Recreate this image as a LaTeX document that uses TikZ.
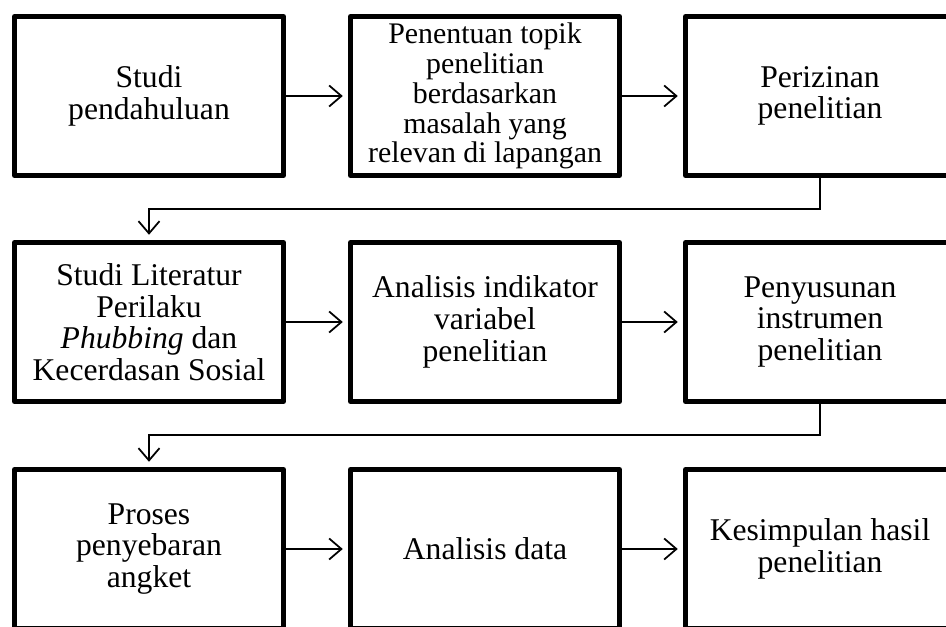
\documentclass[tikz,border=0pt]{standalone}
\usepackage{fontspec}
\setmainfont{Liberation Serif}
\usetikzlibrary{arrows.meta}

\tikzset{
  stepbox/.style={draw, line width=2.8pt, line join=round, fill=white,
    minimum width=5.38cm, minimum height=3.18cm, inner sep=1pt, align=center,
    font=\fontsize{18}{18}\selectfont},
  flow/.style={-{Straight Barb[length=7pt,width=12pt,line width=1pt]}, line width=1pt, shorten >=3pt}
}

\begin{document}
\begin{tikzpicture}
\clip (0,0) rectangle (18.92,-12.54);

% first row
\node[stepbox] (pendahuluan) at (2.98,-1.92) {Studi\\pendahuluan};
\node[stepbox, font=\fontsize{17}{17}\selectfont] (topik) at (9.70,-1.92)
  {Penentuan topik\\penelitian\\berdasarkan\\masalah yang\\relevan di lapangan};
\node[stepbox] (izin) at (16.40,-1.92) {Perizinan\\penelitian};

% second row
\node[stepbox] (literatur) at (2.98,-6.44) {Studi Literatur\\Perilaku\\\textit{Phubbing} dan\\Kecerdasan Sosial};
\node[stepbox] (indikator) at (9.70,-6.44) {Analisis indikator\\variabel\\penelitian};
\node[stepbox] (instrumen) at (16.40,-6.44) {Penyusunan\\instrumen\\penelitian};

% third row
\node[stepbox] (angket) at (2.98,-10.98) {Proses\\penyebaran\\angket};
\node[stepbox] (data) at (9.70,-10.98) {Analisis data};
\node[stepbox] (simpulan) at (16.40,-10.98) {Kesimpulan hasil\\penelitian};

\foreach \a/\b in {pendahuluan/topik, topik/izin, literatur/indikator,
  indikator/instrumen, angket/data, data/simpulan}
  \draw[flow] (\a) -- (\b);

\draw[flow] (izin.south) -- ++(0,-0.62) -| (literatur.north);
\draw[flow] (instrumen.south) -- ++(0,-0.62) -| (angket.north);
\end{tikzpicture}
\end{document}
